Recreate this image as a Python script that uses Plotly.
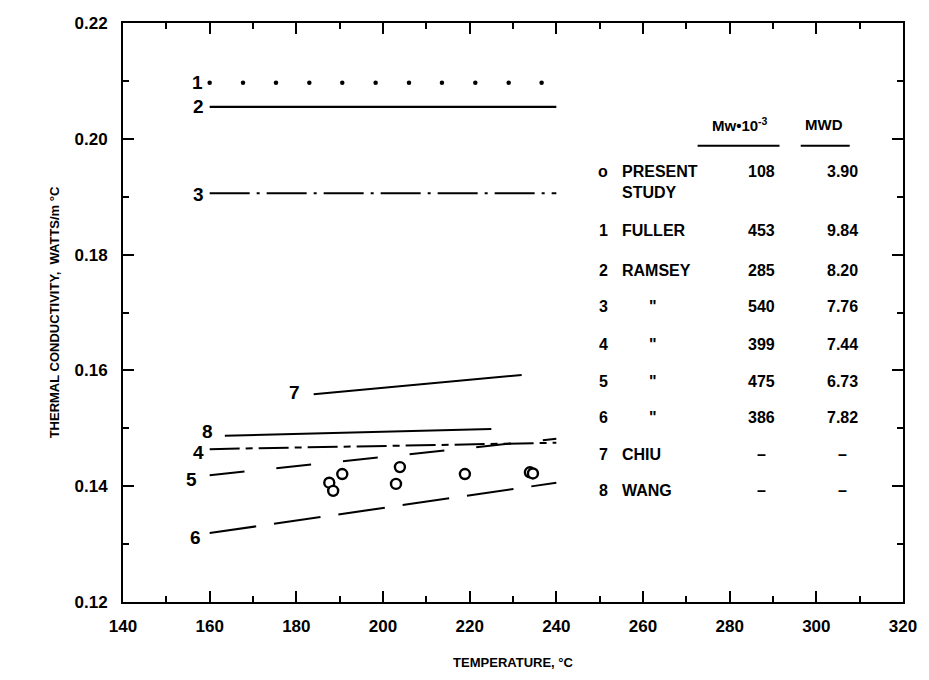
import plotly.graph_objects as go

# ---- data ----
line1_T = [160, 167.7, 175.3, 183, 190.6, 198.3, 206, 213.6, 221.3, 229, 236.6]
line1_k = [0.2097] * 11
line2_T = [160, 240]; line2_k = [0.2055, 0.2055]
line3_T = [160, 240]; line3_k = [0.1906, 0.1906]
line4_T = [160, 240]; line4_k = [0.1464, 0.1475]
line5_T = [160, 240]; line5_k = [0.1419, 0.1482]
line6_T = [160, 240]; line6_k = [0.1319, 0.1406]
line7_T = [184, 232]; line7_k = [0.1559, 0.1592]
line8_T = [163.5, 225]; line8_k = [0.1487, 0.1499]
pts_T = [187.6, 190.6, 188.5, 203.9, 203.0, 218.9, 233.9, 234.6]
pts_k = [0.1406, 0.1421, 0.1392, 0.1433, 0.1404, 0.1421, 0.1424, 0.1422]

curve_labels = ["1", "2", "3", "4", "5", "6", "7", "8"]
label_T = [157.2, 157.5, 157.5, 157.5, 155.9, 156.8, 179.5, 159.5]
label_k = [0.2098, 0.2055, 0.1903, 0.1459, 0.1411, 0.1312, 0.1561, 0.1494]

tab_ids = ["o", "1", "2", "3", "4", "5", "6", "7", "8"]
tab_names = ["PRESENT<br>STUDY", "FULLER", "RAMSEY", "\"", "\"", "\"", "\"", "CHIU", "WANG"]
tab_mw = ["108", "453", "285", "540", "399", "475", "386", "–", "–"]
tab_mwd = ["3.90", "9.84", "8.20", "7.76", "7.44", "6.73", "7.82", "–", "–"]
tab_rows_k = [0.1943, 0.1841, 0.1773, 0.1710, 0.1644, 0.1580, 0.1518, 0.1454, 0.1393]

x_range = [140, 320]
y_range = [0.12, 0.22]
x_tick_vals = [140, 150, 160, 170, 180, 190, 200, 210, 220, 230, 240, 250, 260, 270, 280, 290, 300, 310, 320]
x_tick_text = ["140", "", "160", "", "180", "", "200", "", "220", "", "240", "", "260", "", "280", "", "300", "", "320"]
y_tick_vals = [0.12, 0.13, 0.14, 0.15, 0.16, 0.17, 0.18, 0.19, 0.20, 0.21, 0.22]
y_tick_text = ["0.12", "", "0.14", "", "0.16", "", "0.18", "", "0.20", "", "0.22"]
x_major_vals = [140, 160, 180, 200, 220, 240, 260, 280, 300, 320]
y_major_vals = [0.12, 0.14, 0.16, 0.18, 0.20, 0.22]

FONT = "Liberation Sans Narrow, Liberation Sans, Arial"
BLK = "black"

fig = go.Figure()
fig.add_trace(go.Scatter(x=line1_T, y=line1_k, mode="markers",
                         marker=dict(size=4.5, color=BLK)))
fig.add_trace(go.Scatter(x=line2_T, y=line2_k, mode="lines",
                         line=dict(color=BLK, width=2.2)))
fig.add_trace(go.Scatter(x=line3_T, y=line3_k, mode="lines",
                         line=dict(color=BLK, width=1.8, dash="40px,7px,3px,7px")))
fig.add_trace(go.Scatter(x=line4_T, y=line4_k, mode="lines",
                         line=dict(color=BLK, width=2, dash="30px,6px,7px,6px")))
fig.add_trace(go.Scatter(x=line5_T, y=line5_k, mode="lines",
                         line=dict(color=BLK, width=2, dash="35px,32px")))
fig.add_trace(go.Scatter(x=line6_T, y=line6_k, mode="lines",
                         line=dict(color=BLK, width=2, dash="47px,18px")))
fig.add_trace(go.Scatter(x=line7_T, y=line7_k, mode="lines",
                         line=dict(color=BLK, width=2)))
fig.add_trace(go.Scatter(x=line8_T, y=line8_k, mode="lines",
                         line=dict(color=BLK, width=2)))
fig.add_trace(go.Scatter(x=pts_T, y=pts_k, mode="markers",
                         marker=dict(size=10, color="white", symbol="circle",
                                     line=dict(color=BLK, width=2.4))))
# invisible trace carrying the overlay (major-tick) axes
fig.add_trace(go.Scatter(x=x_range, y=y_range, xaxis="x2", yaxis="y2", mode="markers",
                         marker=dict(size=1, color="rgba(0,0,0,0)"), hoverinfo="skip"))

for lab, t, k in zip(curve_labels, label_T, label_k):
    fig.add_annotation(x=t, y=k, text="<b>%s</b>" % lab, showarrow=False,
                       font=dict(size=19, color=BLK, family=FONT), xanchor="center", yanchor="middle")

# table
TS = 16
col_id, col_name, col_ditto, col_mw, col_mwd = 250.8, 254.7, 262.3, 287.4, 306.0
for i, k in enumerate(tab_rows_k):
    fig.add_annotation(x=col_id, y=k, text="<b>%s</b>" % tab_ids[i], showarrow=False,
                       font=dict(size=TS, color=BLK, family=FONT), xanchor="center", yanchor="middle")
    nm = tab_names[i]
    if nm == "\"":
        fig.add_annotation(x=col_ditto, y=k, text="<b>\"</b>", showarrow=False,
                           font=dict(size=TS, color=BLK, family=FONT), xanchor="center", yanchor="middle")
    elif "<br>" in nm:
        fig.add_annotation(x=col_name, y=k, text="<b>%s</b>" % nm, showarrow=False, align="left",
                           font=dict(size=TS, color=BLK, family=FONT), xanchor="left", yanchor="top",
                           yshift=11)
    else:
        fig.add_annotation(x=col_name, y=k, text="<b>%s</b>" % nm, showarrow=False,
                           font=dict(size=TS, color=BLK, family=FONT), xanchor="left", yanchor="middle")
    fig.add_annotation(x=col_mw, y=k, text="<b>%s</b>" % tab_mw[i], showarrow=False,
                       font=dict(size=TS, color=BLK, family=FONT), xanchor="center", yanchor="middle")
    fig.add_annotation(x=col_mwd, y=k, text="<b>%s</b>" % tab_mwd[i], showarrow=False,
                       font=dict(size=TS, color=BLK, family=FONT), xanchor="center", yanchor="middle")

fig.add_annotation(x=282.3, y=0.2024, text="<b>Mw•10<sup>-3</sup></b>", showarrow=False,
                   font=dict(size=15, color=BLK, family=FONT), xanchor="center", yanchor="middle")
fig.add_annotation(x=301.8, y=0.2024, text="<b>MWD</b>", showarrow=False,
                   font=dict(size=15, color=BLK, family=FONT), xanchor="center", yanchor="middle")
fig.add_shape(type="line", x0=272.6, x1=291.5, y0=0.1988, y1=0.1988, line=dict(color=BLK, width=2))
fig.add_shape(type="line", x0=296.4, x1=307.7, y0=0.1988, y1=0.1988, line=dict(color=BLK, width=2))

axis_common = dict(showline=True, linecolor=BLK, linewidth=2, mirror="allticks",
                   ticks="inside", ticklen=6, tickwidth=2, tickcolor=BLK,
                   showgrid=False, zeroline=False,
                   tickfont=dict(size=17, color=BLK, family=FONT, weight="bold"))
overlay_common = dict(ticks="inside", ticklen=11, tickwidth=2, tickcolor=BLK,
                      showticklabels=False, showline=False, mirror="allticks",
                      showgrid=False, zeroline=False)

fig.update_layout(
    xaxis=dict(range=x_range, tickmode="array", tickvals=x_tick_vals, ticktext=x_tick_text,
               ticklabelstandoff=8,
               title=dict(text="<b>TEMPERATURE, °C</b>", standoff=22,
                          font=dict(size=13, color=BLK, family=FONT)),
               **axis_common),
    yaxis=dict(range=y_range, tickmode="array", tickvals=y_tick_vals, ticktext=y_tick_text,
               ticklabelstandoff=10,
               title=dict(text="<b>THERMAL CONDUCTIVITY,  WATTS/m °C</b>", standoff=12,
                          font=dict(size=13, color=BLK, family=FONT)),
               **axis_common),
    xaxis2=dict(overlaying="x", range=x_range, tickmode="array", tickvals=x_major_vals,
                side="bottom", anchor="y2", **overlay_common),
    yaxis2=dict(overlaying="y", range=y_range, tickmode="array", tickvals=y_major_vals,
                side="left", anchor="x2", **overlay_common),
    width=929, height=680, showlegend=False,
    margin=dict(l=123, r=23, t=23, b=78),
    plot_bgcolor="white", paper_bgcolor="white")

fig.write_html("out.html")
